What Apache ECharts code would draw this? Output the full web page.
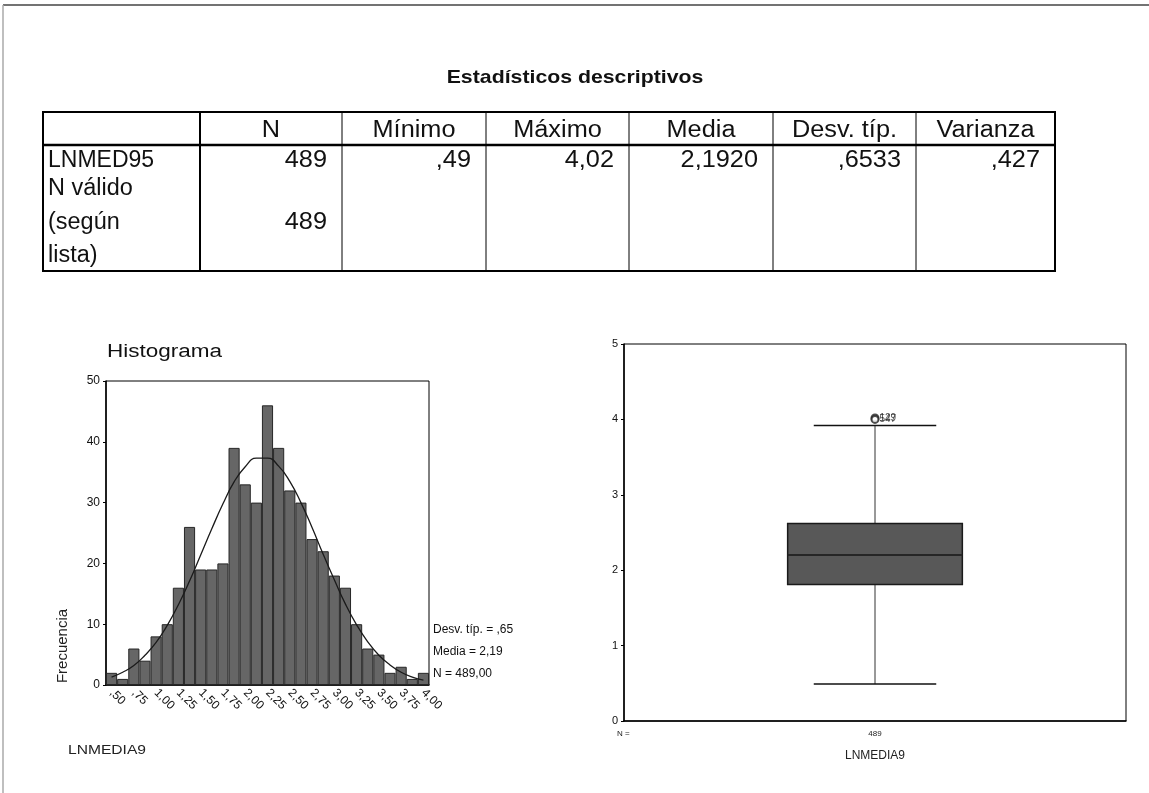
<!DOCTYPE html>
<html><head><meta charset="utf-8">
<script src="https://cdn.jsdelivr.net/npm/echarts@6/dist/echarts.min.js"></script>
<style>html,body{margin:0;padding:0;background:#fff}#c{width:1149px;height:793px}</style>
</head><body><div id="c"></div>
<script>
// ---------------- DATA ----------------
const tableTitle = "Estadísticos descriptivos";
const tableHeader = ["", "N", "Mínimo", "Máximo", "Media", "Desv. típ.", "Varianza"];
const tableRow1 = ["LNMED95", "489", ",49", "4,02", "2,1920", ",6533", ",427"];
const tableRow2Label = ["N válido", "(según", "lista)"];
const tableRow2 = ["", "489", "", "", "", "", ""];

const histBinCenters = ["0.500","0.625","0.750","0.875","1.000","1.125","1.250","1.375","1.500","1.625","1.750","1.875","2.000","2.125","2.250","2.375","2.500","2.625","2.750","2.875","3.000","3.125","3.250","3.375","3.500","3.625","3.750","3.875","4.000"];
const histCounts = [2,1,6,4,8,10,16,26,19,19,20,39,33,30,46,39,32,30,24,22,18,16,10,6,5,2,3,1,2];
const normalCurve = [1.3,2.1,3.2,4.9,7.0,9.8,13.2,17.1,21.4,25.7,29.8,33.4,35.9,37.3,37.3,36.0,33.5,30.0,25.9,21.5,17.3,13.3,9.9,7.1,4.9,3.3,2.1,1.3,0.8];
const histTickLabels = [",50",",75","1,00","1,25","1,50","1,75","2,00","2,25","2,50","2,75","3,00","3,25","3,50","3,75","4,00"];
const histStats = ["Desv. típ. = ,65", "Media = 2,19", "N = 489,00"];
const histTitle = "Histograma";
const histYName = "Frecuencia";
const histXName = "LNMEDIA9";

const boxCategories = ["489"];
const boxStats = [0.49, 1.81, 2.20, 2.62, 3.92]; // lower whisker, Q1, median, Q3, upper whisker
const boxOutliers = [4.02, 4.00];
const boxOutlierLabels = ["129", "547"];
const boxXName = "LNMEDIA9";
const boxNLabel = "N =";

// ---------------- LAYOUT ----------------
const FONT = "Liberation Sans, Arial, sans-serif";
const colX = [43, 200, 342, 486, 629, 773, 916, 1055];
const tTop = 112, tHeadBottom = 145, tBottom = 271;
const headY = 131, row1Y = 161, row2Ys = [189, 223, 256];
const TF = '23px ' + FONT, TSX = 1.1;

const g = [];
g.push({type:'line', shape:{x1:3,y1:5,x2:1149,y2:5}, style:{stroke:'#444', lineWidth:1.5}});
g.push({type:'line', shape:{x1:3,y1:5,x2:3,y2:793}, style:{stroke:'#aaa', lineWidth:1.5}});
g.push({type:'text', x:575, y:78, scaleX:1.12, style:{text:tableTitle, font:'bold 19px '+FONT, fill:'#111', textAlign:'center', textVerticalAlign:'middle'}});
g.push({type:'rect', shape:{x:colX[0], y:tTop, width:colX[7]-colX[0], height:tBottom-tTop}, style:{fill:'none', stroke:'#000', lineWidth:2}});
g.push({type:'line', shape:{x1:colX[0],y1:tHeadBottom,x2:colX[7],y2:tHeadBottom}, style:{stroke:'#000', lineWidth:2.5}});
for (let i = 1; i < colX.length-1; i++) {
  g.push({type:'line', shape:{x1:colX[i],y1:tTop,x2:colX[i],y2:tBottom}, style:{stroke:'#000', lineWidth:i===1?2:1}});
}
for (let i = 0; i < tableHeader.length; i++) {
  if (!tableHeader[i]) continue;
  g.push({type:'text', x:(colX[i]+colX[i+1])/2, y:headY, scaleX:TSX, style:{text:tableHeader[i], font:TF, fill:'#111', textAlign:'center', textVerticalAlign:'middle'}});
}
for (let i = 0; i < tableRow1.length; i++) {
  const left = i === 0;
  g.push({type:'text', x: left ? colX[0]+5 : colX[i+1]-15, y:row1Y, scaleX: left ? 1.0 : TSX, style:{text:tableRow1[i], font:TF, fill:'#111', textAlign: left?'left':'right', textVerticalAlign:'middle'}});
}
tableRow2Label.forEach((t, k) => {
  g.push({type:'text', x:colX[0]+5, y:row2Ys[k], scaleX:1.02, style:{text:t, font:TF, fill:'#111', textAlign:'left', textVerticalAlign:'middle'}});
});
for (let i = 1; i < tableRow2.length; i++) {
  if (!tableRow2[i]) continue;
  g.push({type:'text', x:colX[i+1]-15, y:row2Ys[1], scaleX:TSX, style:{text:tableRow2[i], font:TF, fill:'#111', textAlign:'right', textVerticalAlign:'middle'}});
}
// histogram texts
g.push({type:'text', x:107, y:352, scaleX:1.25, style:{text:histTitle, font:'18px '+FONT, fill:'#111', textAlign:'left', textVerticalAlign:'middle'}});
g.push({type:'text', x:63, y:646, rotation:Math.PI/2, style:{text:histYName, font:'15px '+FONT, fill:'#222', textAlign:'center', textVerticalAlign:'middle'}});
g.push({type:'text', x:68, y:750, scaleX:1.2, style:{text:histXName, font:'13px '+FONT, fill:'#222', textAlign:'left', textVerticalAlign:'middle'}});
histStats.forEach((t, k) => {
  g.push({type:'text', x:433, y:630 + k*22, style:{text:t, font:'12px '+FONT, fill:'#111', textAlign:'left', textVerticalAlign:'middle'}});
});
g.push({type:'text', x:617, y:734, style:{text:boxNLabel, font:'8px '+FONT, fill:'#222', textAlign:'left', textVerticalAlign:'middle'}});

const chart = echarts.init(document.getElementById('c'));
chart.setOption({
  backgroundColor: '#fff',
  animation: false,
  textStyle: {fontFamily: FONT},
  graphic: g,
  grid: [
    {left:106, top:381, width:323, height:304, show:true, borderColor:'#000', borderWidth:1, backgroundColor:'transparent'},
    {left:624, top:344, width:502, height:377, show:true, borderColor:'#000', borderWidth:1, backgroundColor:'transparent'}
  ],
  xAxis: [
    {type:'category', gridIndex:0, data:histBinCenters, boundaryGap:true,
     axisLine:{lineStyle:{color:'#000', width:1.5}},
     axisTick:{interval:1, alignWithLabel:true, length:4, lineStyle:{color:'#000'}},
     axisLabel:{interval:1, rotate:-45, fontSize:12, color:'#111', margin:6,
       formatter:(v, i) => (i % 2 === 0 ? histTickLabels[i/2] : '')}},
    {type:'category', gridIndex:1, data:boxCategories,
     axisLine:{lineStyle:{color:'#000', width:1.5}},
     axisTick:{alignWithLabel:true, length:3, lineStyle:{color:'#000'}},
     axisLabel:{fontSize:8, color:'#222', margin:9},
     name:boxXName, nameLocation:'middle', nameGap:29, nameTextStyle:{fontSize:12, color:'#222'}}
  ],
  yAxis: [
    {type:'value', gridIndex:0, min:0, max:50, interval:10,
     axisLine:{show:true, lineStyle:{color:'#000', width:1.5}},
     axisTick:{show:true, length:3, lineStyle:{color:'#000'}},
     splitLine:{show:false},
     axisLabel:{fontSize:12, color:'#111', margin:6}},
    {type:'value', gridIndex:1, min:0, max:5, interval:1,
     axisLine:{show:true, lineStyle:{color:'#000', width:1.5}},
     axisTick:{show:true, length:3, lineStyle:{color:'#000'}},
     splitLine:{show:false},
     axisLabel:{fontSize:11, color:'#111', margin:6}}
  ],
  series: [
    {type:'bar', xAxisIndex:0, yAxisIndex:0, data:histCounts, barWidth:'100%', barCategoryGap:'0%',
     itemStyle:{color:'#666666', borderColor:'#262626', borderWidth:1}},
    {type:'line', xAxisIndex:0, yAxisIndex:0, data:normalCurve, smooth:true, symbol:'none',
     lineStyle:{color:'#1a1a1a', width:1.3}, z:5},
    {type:'custom', xAxisIndex:1, yAxisIndex:1, data:[[0].concat(boxStats)],
     renderItem:(params, api) => {
       const cx = api.coord([api.value(0), 0])[0];
       const band = api.size([1, 0])[0];
       const hb = band * 0.174, hc = band * 0.122;
       const y = k => api.coord([0, api.value(k)])[1];
       const yMin = y(1), yQ1 = y(2), yMed = y(3), yQ3 = y(4), yMax = y(5);
       const ls = {stroke:'#333', lineWidth:1};
       return {type:'group', children:[
         {type:'line', shape:{x1:cx, y1:yMax, x2:cx, y2:yQ3}, style:ls},
         {type:'line', shape:{x1:cx, y1:yQ1, x2:cx, y2:yMin}, style:ls},
         {type:'line', shape:{x1:cx-hc, y1:yMax, x2:cx+hc, y2:yMax}, style:{stroke:'#111', lineWidth:1.5}},
         {type:'line', shape:{x1:cx-hc, y1:yMin, x2:cx+hc, y2:yMin}, style:{stroke:'#111', lineWidth:1.5}},
         {type:'rect', shape:{x:cx-hb, y:yQ3, width:2*hb, height:yQ1-yQ3}, style:{fill:'#585858', stroke:'#1a1a1a', lineWidth:1.5}},
         {type:'line', shape:{x1:cx-hb, y1:yMed, x2:cx+hb, y2:yMed}, style:{stroke:'#262626', lineWidth:2}}
       ]};
     }},
    {type:'scatter', xAxisIndex:1, yAxisIndex:1, symbol:'emptyCircle', symbolSize:7,
     itemStyle:{color:'#222', borderColor:'#222', borderWidth:1},
     data: boxOutliers.map((v, i) => ({value:[0, v], label:{show:true, position:'right', distance:0, formatter:boxOutlierLabels[i], fontSize:10, color:'#222'}}))}
  ]
});
</script></body></html>
